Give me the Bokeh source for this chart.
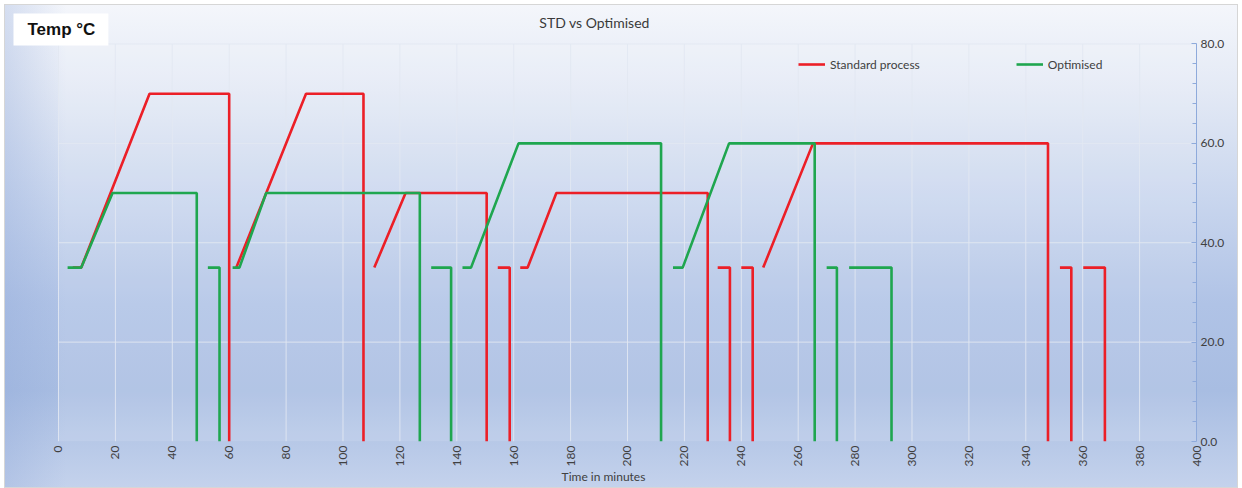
from bokeh.plotting import figure
from bokeh.models import Range1d, FixedTicker, PrintfTickFormatter, Label
from bokeh.embed import file_html
from bokeh.resources import INLINE
import math

# ---- data (minutes, temperature °C) ----
std_x = [
    [5, 8, 32, 60, 60],
    [62.5, 87, 107.2, 107.2],
    [111, 122, 150.5, 150.5],
    [154.4, 158.6, 158.6],
    [162.3, 164.9, 175, 228.2, 228.2],
    [231.7, 236, 236],
    [240, 244, 244],
    [247.7, 265.2, 347.8, 347.8],
    [352, 356, 356],
    [360.2, 367.8, 367.8],
]
std_y = [
    [35, 35, 70, 70, 0],
    [35, 70, 70, 0],
    [35, 50, 50, 0],
    [35, 35, 0],
    [35, 35, 50, 50, 0],
    [35, 35, 0],
    [35, 35, 0],
    [35, 60, 60, 0],
    [35, 35, 0],
    [35, 35, 0],
]
opt_x = [
    [3.2, 8, 19, 48.6, 48.6],
    [52.5, 56.6, 56.6],
    [61.2, 63.6, 73, 127, 127],
    [131, 138, 138],
    [142, 145, 161.7, 211.8, 211.8],
    [216, 219.4, 235.7, 265.8, 265.8],
    [270, 273.6, 273.6],
    [277.9, 292.8, 292.8],
]
opt_y = [
    [35, 35, 50, 50, 0],
    [35, 35, 0],
    [35, 35, 50, 50, 0],
    [35, 35, 0],
    [35, 35, 60, 60, 0],
    [35, 35, 60, 60, 0],
    [35, 35, 0],
    [35, 35, 0],
]
x_ticks = [0, 20, 40, 60, 80, 100, 120, 140, 160, 180, 200, 220, 240, 260, 280,
           300, 320, 340, 360, 380, 400]
y_ticks = [0, 20, 40, 60, 80]
y_minor = [4, 8, 12, 16, 24, 28, 32, 36, 44, 48, 52, 56, 64, 68, 72, 76]
x_min, x_max = 0, 400
y_min, y_max = 0, 80

title_text = "STD vs Optimised"
y_title = "Temp °C"
x_title = "Time in minutes"
std_name = "Standard process"
opt_name = "Optimised"

FONT = "Lato"
TXT = "#404040"
GRID = "#e2e8f2"

# frame extends a little left/up of the data area so the chart's top texts sit inside it
p = figure(frame_width=1186, frame_height=431, output_backend="svg", toolbar_location=None,
           x_range=Range1d(-16.87, 400), y_range=Range1d(0, 86.74),
           y_axis_location="right", title=None,
           min_border_left=5, min_border_right=41, min_border_top=5, min_border_bottom=10)

p.border_fill_color = None
p.background_fill_color = None
p.outline_line_color = None
p.xgrid.visible = False
p.ygrid.visible = False
p.styles = {
    "margin": "5px",
    "background-image": ("linear-gradient(to right, rgba(140,165,215,0.30) 0%, rgba(140,165,215,0) 5%), "
                         "linear-gradient(to bottom, #f4f6fb 0%, #e3e9f5 18%, #c9d6ee 40%, "
                         "#b0c3e6 62%, #a8bde2 80%, #c4d2ec 100%)"),
    "box-shadow": "0 0 0 1px #d6d6d6",
}

# plot area and its grid
p.quad(left=x_min, right=x_max, bottom=y_min, top=y_max, fill_color="white",
       fill_alpha=0.12, line_color=None)
p.segment(x0=x_ticks[:-1], y0=y_min, x1=x_ticks[:-1], y1=y_max, line_color=GRID,
          line_alpha=0.9, line_width=1)
p.segment(x0=x_min, y0=y_ticks[1:], x1=x_max, y1=y_ticks[1:], line_color=GRID,
          line_alpha=0.9, line_width=1)

# x axis
xa = p.xaxis[0]
xa.ticker = FixedTicker(ticks=x_ticks, minor_ticks=[])
xa.major_label_orientation = math.pi / 2
xa.major_label_text_font = FONT
xa.major_label_text_font_size = "12px"
xa.major_label_text_color = TXT
xa.axis_line_color = None
xa.major_tick_line_color = None
xa.minor_tick_line_color = None
xa.major_tick_out = 0
xa.major_tick_in = 0
xa.minor_tick_out = 0
xa.major_label_standoff = 4
xa.axis_label = x_title
xa.axis_label_text_font = FONT
xa.axis_label_text_font_size = "12px"
xa.axis_label_text_font_style = "normal"
xa.axis_label_text_color = TXT
xa.axis_label_standoff = 0

# y axis (right)
ya = p.yaxis[0]
ya.ticker = FixedTicker(ticks=y_ticks, minor_ticks=y_minor)
ya.bounds = (y_min, y_max)
ya.formatter = PrintfTickFormatter(format="%.1f")
ya.major_label_text_font = FONT
ya.major_label_text_font_size = "12px"
ya.major_label_text_color = TXT
ya.axis_line_color = "#8eaadb"
ya.major_tick_line_color = "#8eaadb"
ya.minor_tick_line_color = "#8eaadb"
ya.major_tick_in = 5
ya.major_tick_out = 0
ya.minor_tick_in = 4
ya.minor_tick_out = 0
ya.major_label_standoff = 4

# series
p.multi_line(std_x, std_y, line_color="#ec1f27", line_width=2.6, legend_label=std_name)
p.multi_line(opt_x, opt_y, line_color="#1fa64f", line_width=2.6, legend_label=opt_name)

lg = p.legend[0]
lg.orientation = "horizontal"
lg.location = (788, 367)
lg.background_fill_alpha = 0
lg.border_line_color = None
lg.label_text_font = FONT
lg.label_text_font_size = "12px"
lg.label_text_color = TXT
lg.glyph_width = 27
lg.label_standoff = 5
lg.spacing = 96
lg.padding = 0
lg.margin = 0

# texts on top of the chart
p.add_layout(Label(x=584, y=419, x_units="screen", y_units="screen", text=title_text,
                   text_font=FONT, text_font_size="14px", text_color="#3a3a3a",
                   text_align="center", text_baseline="middle"))
p.add_layout(Label(x=3, y=412, x_units="screen", y_units="screen", text=y_title,
                   text_font="Liberation Sans", text_font_size="17px", text_font_style="bold",
                   text_color="#111111", text_align="left", text_baseline="middle",
                   background_fill_color="white", padding=(14, 13, 6, 7)))

open("out.html", "w").write(file_html(p, INLINE))
